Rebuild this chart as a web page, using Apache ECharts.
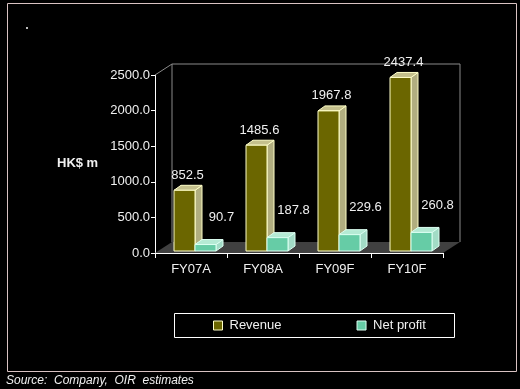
<!DOCTYPE html>
<html>
<head>
<meta charset="utf-8">
<script src="https://cdn.jsdelivr.net/npm/echarts@6/dist/echarts.min.js"></script>
<style>html,body{margin:0;padding:0;background:#000;}#c{width:520px;height:389px;}</style>
</head>
<body>
<div id="c"></div>
<script>
const categories = ['FY07A', 'FY08A', 'FY09F', 'FY10F'];
const revenue = [852.5, 1485.6, 1967.8, 2437.4];
const netProfit = [90.7, 187.8, 229.6, 260.8];
const yTicks = [0, 500, 1000, 1500, 2000, 2500];

const FONT = 'Liberation Sans, Arial, sans-serif';
const styles = {
  Revenue: {front: '#6b6600', top: '#c4c08c', side: '#b1ae80', edge: '#ffffc8', offL: -17, lx: 3, ly: -15},
  'Net profit': {front: '#66cca6', top: '#b4ead4', side: '#a2dcc6', edge: '#dcfff2', offL: 4, lx: 16, ly: -27}
};

function barRenderer(name) {
  const st = styles[name];
  return function (params, api) {
    const idx = api.value(0), v = api.value(1);
    const c = api.coord([idx, v]);
    const b = api.coord([idx, 0]);
    const bw = api.size([1, 0])[0];
    const k = bw / 72;
    const x0 = c[0] + st.offL * k, x1 = x0 + 21 * k;
    const yt = c[1] - 2, yb = b[1] - 2;
    const dx = 7 * k, dy = -5 * k;
    return {
      type: 'group',
      children: [
        {type: 'polygon', shape: {points: [[x1, yt], [x1 + dx, yt + dy], [x1 + dx, yb + dy], [x1, yb]]},
          style: {fill: st.side, stroke: st.edge, lineWidth: 1}},
        {type: 'polygon', shape: {points: [[x0, yt], [x0 + dx, yt + dy], [x1 + dx, yt + dy], [x1, yt]]},
          style: {fill: st.top, stroke: st.edge, lineWidth: 1}},
        {type: 'rect', shape: {x: x0, y: yt, width: x1 - x0, height: yb - yt},
          style: {fill: st.front, stroke: st.edge, lineWidth: 1}},
        {type: 'text', style: {text: v.toFixed(1), x: (x0 + x1) / 2 + st.lx, y: yt + st.ly,
          textAlign: 'center', textVerticalAlign: 'middle', fill: '#f0f0f0', font: '13px ' + FONT}}
      ]
    };
  };
}

function frameRenderer(params, api) {
  const n = categories.length;
  const bw = api.size([1, 0])[0];
  const L = api.coord([0, 0])[0] - bw / 2;
  const R = api.coord([n - 1, 0])[0] + bw / 2;
  const B = api.coord([0, 0])[1];
  const T = api.coord([0, yTicks[yTicks.length - 1]])[1];
  const dx = 17, dy = -11;
  return {
    type: 'group',
    children: [
      {type: 'polygon', shape: {points: [[L, B], [L + dx, B + dy], [R + dx, B + dy], [R, B]]},
        style: {fill: '#404040', stroke: 'none'}},
      {type: 'polyline', shape: {points: [[L + dx, B + dy], [L + dx, T + dy], [R + dx, T + dy], [R + dx, B + dy]]},
        style: {fill: 'none', stroke: '#8a8a8a', lineWidth: 1}},
      {type: 'line', shape: {x1: L, y1: T, x2: L + dx, y2: T + dy},
        style: {stroke: '#8a8a8a', lineWidth: 1}}
    ]
  };
}

const chart = echarts.init(document.getElementById('c'), null, {renderer: 'canvas'});
chart.setOption({
  backgroundColor: '#000',
  animation: false,
  grid: {left: 155, top: 75, width: 288, height: 178},
  xAxis: {
    type: 'category', data: categories,
    axisLine: {lineStyle: {color: '#fff', width: 1}},
    axisTick: {show: true, length: 5, lineStyle: {color: '#fff'}},
    axisLabel: {color: '#f0f0f0', fontSize: 13, fontFamily: FONT, margin: 10},
    splitLine: {show: false}
  },
  yAxis: {
    type: 'value', min: yTicks[0], max: yTicks[yTicks.length - 1], interval: yTicks[1] - yTicks[0],
    axisLine: {show: true, lineStyle: {color: '#fff', width: 1}},
    axisTick: {show: true, length: 4, lineStyle: {color: '#fff'}},
    axisLabel: {color: '#f0f0f0', fontSize: 13, fontFamily: FONT, margin: 5, formatter: v => v.toFixed(1)},
    splitLine: {show: false}
  },
  legend: {
    left: 213, top: 319, padding: 0, itemGap: 75, itemWidth: 9, itemHeight: 9,
    textStyle: {color: '#f0f0f0', fontSize: 13, fontFamily: FONT, padding: [0, 0, 0, 2]},
    data: [
      {name: 'Revenue', icon: 'rect', itemStyle: {color: styles.Revenue.front, borderColor: styles.Revenue.edge, borderWidth: 1}},
      {name: 'Net profit', icon: 'rect', itemStyle: {color: styles['Net profit'].front, borderColor: styles['Net profit'].edge, borderWidth: 1}}
    ]
  },
  graphic: [
    {type: 'rect', shape: {x: 7.5, y: 3.5, width: 509, height: 368}, style: {fill: 'none', stroke: '#d9c2c2', lineWidth: 1}, z: -1},
    {type: 'rect', shape: {x: 174.5, y: 313.5, width: 280, height: 24}, style: {fill: 'none', stroke: '#fff', lineWidth: 1}},
    {type: 'rect', shape: {x: 26, y: 27, width: 2, height: 2}, style: {fill: '#bbb'}},
    {type: 'text', left: 57, top: 157, style: {text: 'HK$ m', fill: '#f0f0f0', font: 'bold 13px ' + FONT}},
    {type: 'text', left: 6, top: 375, style: {text: 'Source:  Company,  OIR  estimates', fill: '#f0f0f0', font: 'italic 12px ' + FONT}}
  ],
  series: [
    {type: 'custom', name: 'frame', renderItem: frameRenderer, data: [[0, 0]], clip: false, silent: true, z: 1},
    {type: 'custom', name: 'Revenue', renderItem: barRenderer('Revenue'), itemStyle: {color: styles.Revenue.front},
      data: revenue.map((v, i) => [i, v]), clip: false, z: 2},
    {type: 'custom', name: 'Net profit', renderItem: barRenderer('Net profit'), itemStyle: {color: styles['Net profit'].front},
      data: netProfit.map((v, i) => [i, v]), clip: false, z: 3}
  ]
});
</script>
</body>
</html>
